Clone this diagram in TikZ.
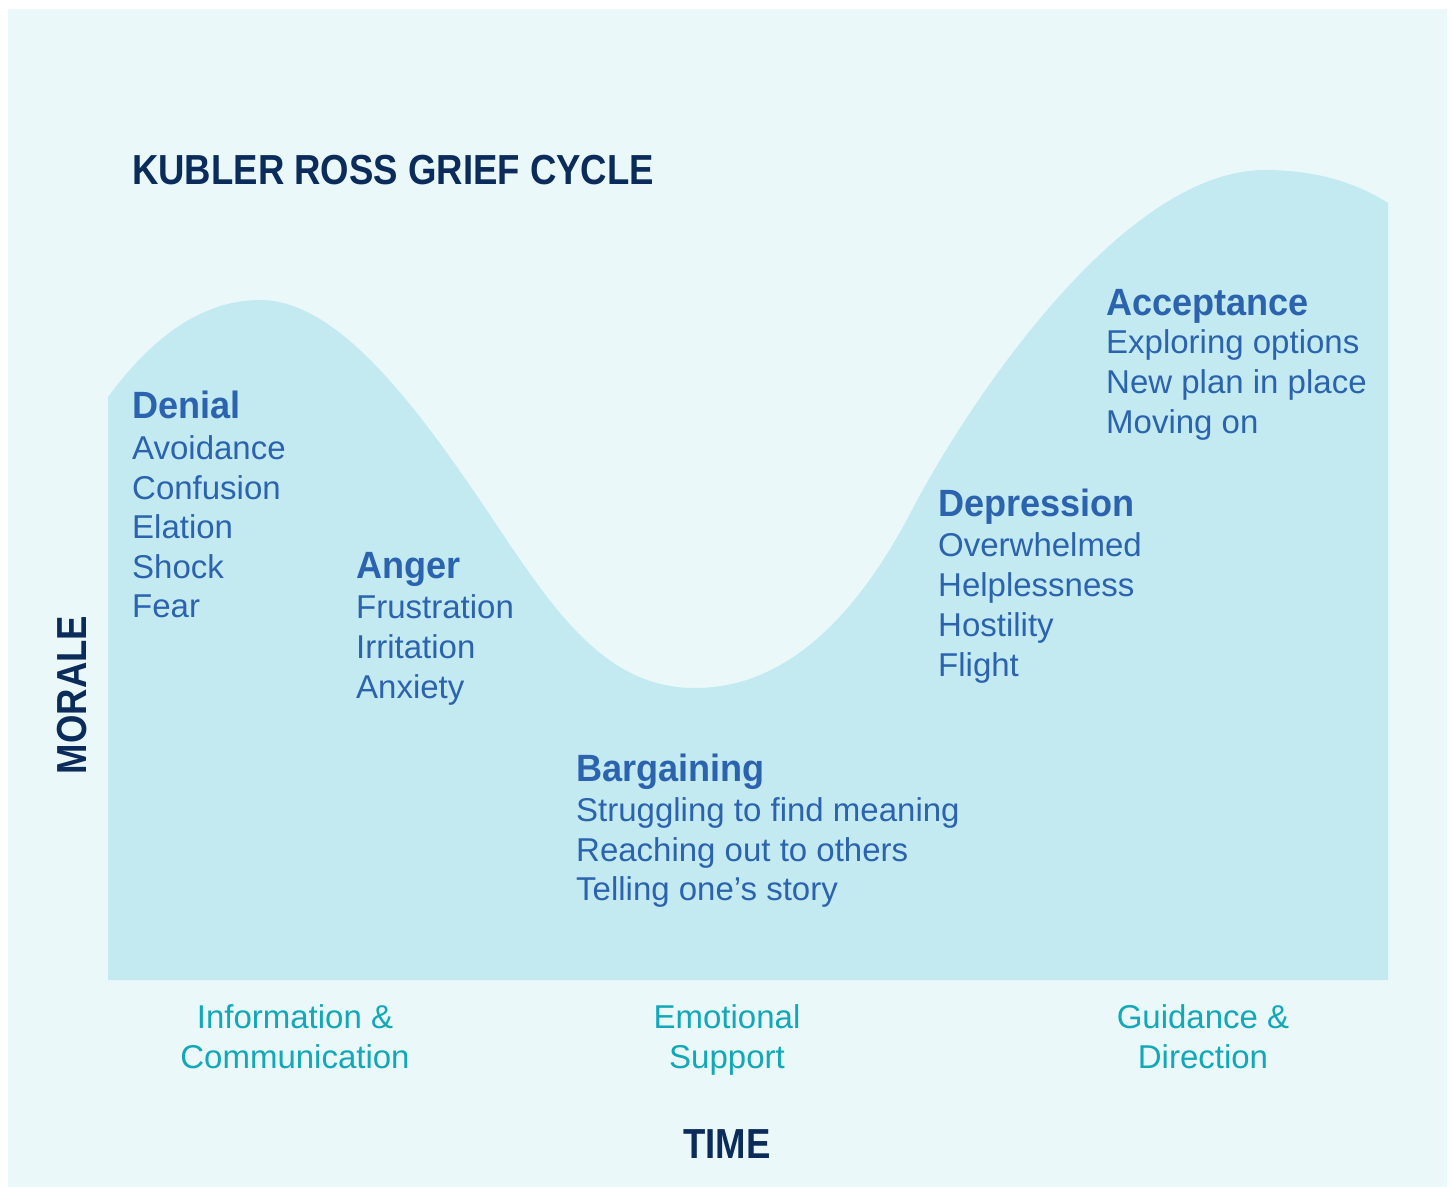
\documentclass[tikz,border=0pt]{standalone}
\usepackage{fontspec}
\setmainfont{Liberation Sans}
\newfontfamily\titlefont{Liberation Sans}[FakeStretch=0.87]
\newfontfamily\headfont{Liberation Sans}[FakeStretch=0.95]
\definecolor{panelbg}{HTML}{EAF8FA}
\definecolor{wavefill}{HTML}{C4EAF1}
\definecolor{stageblue}{HTML}{2B63AE}
\definecolor{navy}{HTML}{0B2C5A}
\definecolor{teal}{HTML}{12A8B7}
\tikzset{
  titletxt/.style={inner sep=0pt, text=navy, font=\titlefont\bfseries\fontsize{42}{48}\selectfont},
  headtxt/.style={inner sep=0pt, anchor=base west, text=stageblue, font=\headfont\bfseries\fontsize{38}{44}\selectfont},
  itemtxt/.style={inner sep=0pt, anchor=base west, text=stageblue, font=\fontsize{33}{40}\selectfont},
  labtxt/.style={inner sep=0pt, anchor=base, text=teal, font=\fontsize{33}{40}\selectfont}
}
\begin{document}
\begin{tikzpicture}[x=1pt, y=-1pt]
\useasboundingbox (0,0) rectangle (1452,1187);
\fill[white] (0,0) rectangle (1452,1187);
\fill[panelbg] (8,9) rectangle (1447,1187);
% wave
\fill[wavefill] (108,397)
  .. controls (150,340) and (200,300) .. (260,300)
  .. controls (340,300) and (420,410) .. (500,530)
  .. controls (560,620) and (610,688) .. (695,688)
  .. controls (790,688) and (860,610) .. (912,510)
  .. controls (964,410) and (1120,170) .. (1265,170)
  .. controls (1320,170) and (1360,185) .. (1388,203)
  -- (1388,980) -- (108,980) -- cycle;
% title
\node[titletxt, anchor=base west] (title) at (132,184) {KUBLER ROSS GRIEF CYCLE};
% axes
\node[titletxt, rotate=90, anchor=center] (morale) at (72,695) {MORALE};
\node[titletxt, anchor=center] (time) at (727,1144) {TIME};
% Denial
\node[headtxt] (denial) at (132,418) {Denial};
\node[itemtxt] (den1) at (132,459) {Avoidance};
\node[itemtxt] (den2) at (132,499) {Confusion};
\node[itemtxt] (den3) at (132,538) {Elation};
\node[itemtxt] (den4) at (132,578) {Shock};
\node[itemtxt] (den5) at (132,617) {Fear};
% Anger
\node[headtxt] (anger) at (356,578) {Anger};
\node[itemtxt] (ang1) at (356,618) {Frustration};
\node[itemtxt] (ang2) at (356,658) {Irritation};
\node[itemtxt] (ang3) at (356,698) {Anxiety};
% Bargaining
\node[headtxt] (barg) at (576,781) {Bargaining};
\node[itemtxt] (bar1) at (576,821) {Struggling to find meaning};
\node[itemtxt] (bar2) at (576,861) {Reaching out to others};
\node[itemtxt] (bar3) at (576,900) {Telling one’s story};
% Depression
\node[headtxt] (depr) at (938,516) {Depression};
\node[itemtxt] (dep1) at (938,556) {Overwhelmed};
\node[itemtxt] (dep2) at (938,596) {Helplessness};
\node[itemtxt] (dep3) at (938,636) {Hostility};
\node[itemtxt] (dep4) at (938,676) {Flight};
% Acceptance
\node[headtxt] (accept) at (1106,315) {Acceptance};
\node[itemtxt] (acc1) at (1106,353) {Exploring options};
\node[itemtxt] (acc2) at (1106,393) {New plan in place};
\node[itemtxt] (acc3) at (1106,433) {Moving on};
% bottom labels
\node[labtxt] (info1) at (295,1028) {Information \&};
\node[labtxt] (info2) at (295,1068) {Communication};
\node[labtxt] (emo1) at (727,1028) {Emotional};
\node[labtxt] (emo2) at (727,1068) {Support};
\node[labtxt] (gui1) at (1203,1028) {Guidance \&};
\node[labtxt] (gui2) at (1203,1068) {Direction};
\end{tikzpicture}
\end{document}
